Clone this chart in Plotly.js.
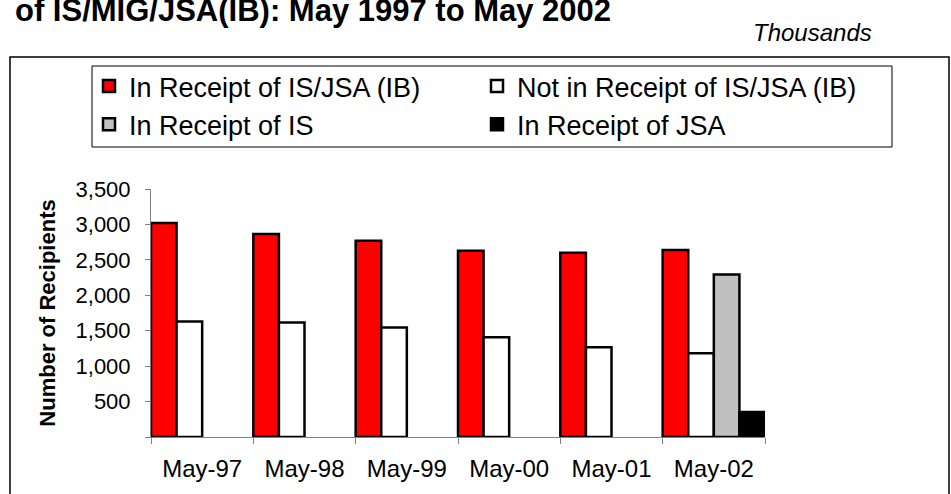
<!DOCTYPE html>
<html><head><meta charset="utf-8">
<script src="https://cdn.plot.ly/plotly-3.0.1.min.js"></script>
<style>html,body{margin:0;padding:0;background:#fff;} #chart{width:951px;height:494px;}</style>
</head><body><div id="chart"></div>
<script>
// ---- data (thousands) ----
const categories = ['May-97', 'May-98', 'May-99', 'May-00', 'May-01', 'May-02'];
const inReceiptISJSA = [3020, 2865, 2770, 2630, 2600, 2640];
const notInReceiptISJSA = [1630, 1615, 1545, 1408, 1268, 1183];
const inReceiptIS = [null, null, null, null, null, 2292];
const inReceiptJSA = [null, null, null, null, null, 352];
const seriesNames = ['In Receipt of IS/JSA (IB)', 'Not in Receipt of IS/JSA (IB)', 'In Receipt of IS', 'In Receipt of JSA'];
const yTickVals = [0, 500, 1000, 1500, 2000, 2500, 3000, 3500];
const yTickText = ['', '500', '1,000', '1,500', '2,000', '2,500', '3,000', '3,500'];
const titleText = 'of IS/MIG/JSA(IB): May 1997 to May 2002';
const unitText = 'Thousands';
const yTitleText = 'Number of Recipients';

// ---- layout helpers (pixel -> paper) ----
const W = 951, H = 494, ML = 151, MR = 186, MT = 189, MB = 57;
const PW = W - ML - MR, PH = H - MT - MB;
const PX = x => (x - ML) / PW;
const PY = y => (H - MB - y) / PH;
const FONT = 'Liberation Sans, Arial, sans-serif';

const outline = {color: '#000', width: 2.5};
const traces = [
  {type: 'bar', name: seriesNames[0], x: categories, y: inReceiptISJSA,
   marker: {color: '#FF0000', line: outline}, legend: 'legend', legendgroup: 'a'},
  {type: 'bar', name: seriesNames[1], x: categories, y: notInReceiptISJSA,
   marker: {color: '#FFFFFF', line: outline}, legend: 'legend2', legendgroup: 'b'},
  {type: 'bar', name: seriesNames[2], x: categories, y: inReceiptIS,
   marker: {color: '#C0C0C0', line: outline}, legend: 'legend', legendgroup: 'c'},
  {type: 'bar', name: seriesNames[3], x: categories, y: inReceiptJSA,
   marker: {color: '#000000', line: outline}, legend: 'legend2', legendgroup: 'd'}
];
traces.forEach(t => t.hoverinfo = 'skip');

const legendCommon = {
  orientation: 'v', xanchor: 'left', yanchor: 'top',
  font: {family: FONT, size: 27, color: '#000'},
  bgcolor: 'rgba(0,0,0,0)', borderwidth: 0, tracegroupgap: 5, itemwidth: 30,
  traceorder: 'normal'
};

const layout = {
  width: W, height: H,
  margin: {l: ML, r: MR, t: MT, b: MB, pad: 0},
  paper_bgcolor: '#fff', plot_bgcolor: '#fff',
  barmode: 'group', bargap: 0, bargroupgap: 0,
  font: {family: FONT, color: '#000'},
  showlegend: true,
  legend: Object.assign({}, legendCommon, {x: PX(89), y: PY(62)}),
  legend2: Object.assign({}, legendCommon, {x: PX(477), y: PY(62)}),
  xaxis: {
    type: 'category', range: [-0.5, 5.5], fixedrange: true,
    showline: true, linecolor: '#808080', linewidth: 1,
    ticks: 'outside', tickson: 'boundaries', ticklen: 6, tickcolor: '#808080', tickwidth: 1,
    tickfont: {family: FONT, size: 24, color: '#000'}, ticklabelstandoff: 10,
    showgrid: false, zeroline: false
  },
  yaxis: {
    range: [0, 3500], fixedrange: true,
    tickmode: 'array', tickvals: yTickVals, ticktext: yTickText,
    showline: true, linecolor: '#808080', linewidth: 1,
    ticks: 'outside', ticklen: 5, tickcolor: '#808080', tickwidth: 1,
    tickfont: {family: FONT, size: 22, color: '#000'}, ticklabelstandoff: 10,
    showgrid: false, zeroline: false,
    title: {text: '<b>' + yTitleText + '</b>', font: {family: FONT, size: 22, color: '#000'}, standoff: 13}
  },
  shapes: [
    {type: 'rect', xref: 'paper', yref: 'paper', x0: PX(10), x1: PX(949), y0: PY(57), y1: PY(520),
     line: {color: '#000', width: 1.5}, layer: 'below'},
    {type: 'rect', xref: 'paper', yref: 'paper', x0: PX(92), x1: PX(892), y0: PY(66), y1: PY(147),
     line: {color: '#000', width: 1}, fillcolor: '#fff', layer: 'below'}
  ],
  annotations: [
    {xref: 'paper', yref: 'paper', x: PX(613), y: PY(10), xanchor: 'right', yanchor: 'middle',
     text: '<b>' + titleText + '</b>', showarrow: false,
     font: {family: FONT, size: 31, color: '#000'}},
    {xref: 'paper', yref: 'paper', x: PX(812), y: PY(33), xanchor: 'center', yanchor: 'middle',
     text: '<i>' + unitText + '</i>', showarrow: false,
     font: {family: FONT, size: 24, color: '#000'}}
  ]
};

Plotly.newPlot('chart', traces, layout, {displayModeBar: false, staticPlot: true});
</script>
</body></html>
